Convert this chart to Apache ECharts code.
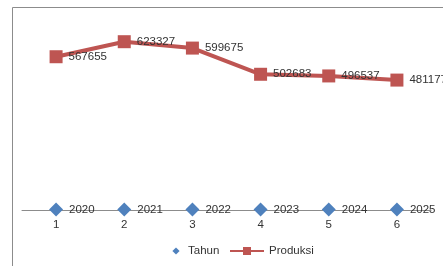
<!DOCTYPE html>
<html><head><meta charset="utf-8">
<script src="https://cdn.jsdelivr.net/npm/echarts@6/dist/echarts.min.js"></script>
<style>html,body{margin:0;padding:0;background:#fff}#c{width:443px;height:266px}</style>
</head><body><div id="c"></div>
<script>
const categories = ['1','2','3','4','5','6'];
const tahun = [2020, 2021, 2022, 2023, 2024, 2025];
const produksi = [567655, 623327, 599675, 502683, 496537, 481177];

const font = 'Liberation Sans';
const chart = echarts.init(document.getElementById('c'));
chart.setOption({
  animation: false,
  backgroundColor: '#fff',
  grid: {left: 22, right: 12, top: 21, bottom: 56},
  xAxis: {
    type: 'category', data: categories, boundaryGap: true,
    axisLine: {lineStyle: {color: '#8c8c8c', width: 1}},
    axisTick: {show: false},
    axisLabel: {color: '#333', fontFamily: font, fontSize: 11.5, margin: 9}
  },
  yAxis: {type: 'value', min: 0, max: 700000, show: false, splitLine: {show: false}},
  legend: [
    {data: ['Tahun'], left: 169, top: 245, padding: 0, itemWidth: 14, itemHeight: 9,
     textStyle: {fontFamily: font, fontSize: 11.5, color: '#333'}},
    {data: ['Produksi'], left: 229, top: 245, padding: 0, itemWidth: 34, itemHeight: 10,
     textStyle: {fontFamily: font, fontSize: 11.5, color: '#333'}}
  ],
  graphic: [{
    type: 'polyline', silent: true,
    shape: {points: [[12.5, 266], [12.5, 7.5], [443, 7.5]]},
    style: {stroke: '#8c8c8c', lineWidth: 1, fill: null}
  }],
  series: [
    {name: 'Tahun', type: 'line', data: tahun, symbol: 'diamond', symbolSize: 14,
     itemStyle: {color: '#4F81BD'}, lineStyle: {opacity: 0, width: 0}, z: 3,
     label: {show: true, position: 'right', distance: 6, color: '#333', fontFamily: font, fontSize: 11.5}},
    {name: 'Produksi', type: 'line', data: produksi, symbol: 'rect', symbolSize: 13,
     itemStyle: {color: '#BE5552'}, lineStyle: {color: '#BE5552', width: 4},
     label: {show: true, position: 'right', distance: 6, color: '#333', fontFamily: font, fontSize: 11.5}}
  ]
});
</script></body></html>
